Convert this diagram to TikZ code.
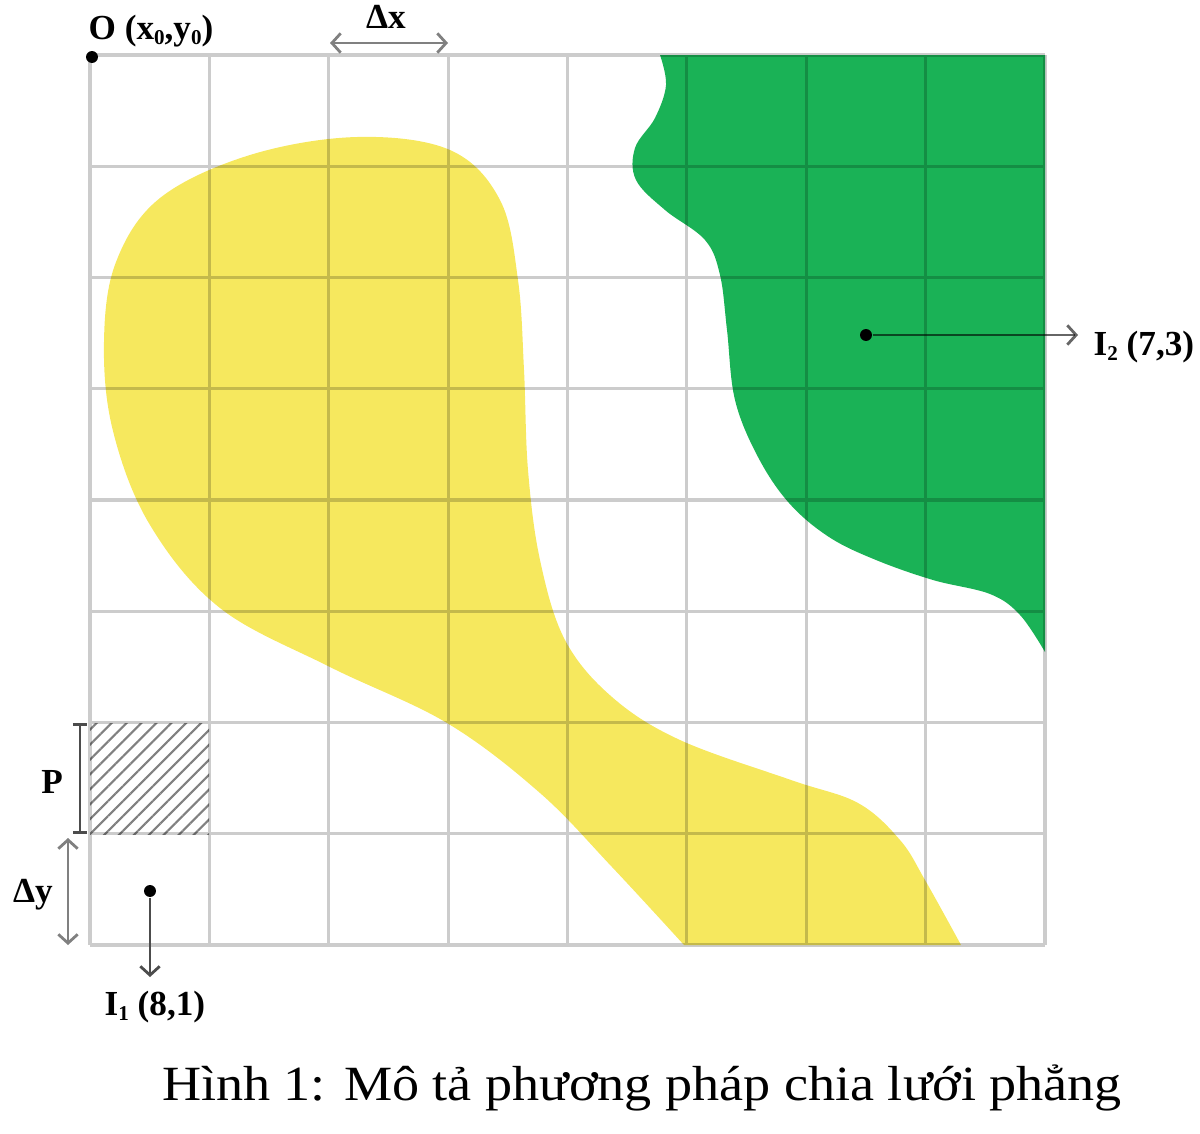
\documentclass[tikz,border=0pt]{standalone}
\usepackage{fontspec}
\setmainfont{Liberation Serif}
\newfontfamily\capfont[FakeStretch=1.1]{Liberation Serif}
\usetikzlibrary{arrows.meta,patterns.meta}
\definecolor{yellowfill}{RGB}{246,232,94}
\definecolor{greenfill}{RGB}{26,178,86}
\newcommand{\lowsub}[1]{\raisebox{-1.5pt}{\fontsize{6}{7}\selectfont#1}}
\tikzset{
  gridline/.style={black,opacity=0.2,line width=0.9pt},
  pt/.style={circle,fill=black,inner sep=0pt,minimum size=3.4pt},
  lab/.style={font=\bfseries\fontsize{10}{12}\selectfont,inner sep=0pt},
  barb/.style={line width=0.8pt,{Straight Barb[length=2.5pt,width=5.5pt]}-{Straight Barb[length=2.5pt,width=5.5pt]}},
  onebarb/.style={line width=0.8pt,-{Straight Barb[length=2.5pt,width=5.5pt]}},
}
\begin{document}
\begin{tikzpicture}[x=0.01cm,y=-0.01cm]
\useasboundingbox (0,0) rectangle (1200,1133);
\fill[yellowfill] plot[smooth,tension=0.6] coordinates {(684,945) (612,867) (540,793) (447,723) (330,667) (220,608) (150,525) (113,431) (104,342) (116,262) (160,198) (250,155) (357,137) (450,150) (500,200) (518,280) (524,370) (528,470) (540,560) (565,640) (612,697) (680,740) (791,780) (858,803) (900,840) (925,880) (961,945)} -- cycle;
\fill[greenfill] (1045,55) -- plot[smooth,tension=0.6] coordinates {(660,55) (666,85) (655,118) (635,148) (636,180) (665,210) (705,240) (720,275) (727,330) (735,400) (758,457) (789,503) (829,537) (876,560) (933,580) (990,594) (1020,615) (1045,652)} -- cycle;
\fill[pattern={Lines[angle=45,distance=3pt,line width=0.6pt]},pattern color=gray] (90,723) rectangle (209,834);
\draw[gridline] \foreach \i in {0,...,8} {({90+\i*119.375},55) -- ({90+\i*119.375},945) (90,{55+\i*111.25}) -- (1045,{55+\i*111.25})};
\node[pt] (o) at (92,57) {};
\node[lab,anchor=base west] (olab) at (88,39) {O (x\lowsub{0},y\lowsub{0})};
\coordinate (dxl) at (330,43);
\coordinate (dxr) at (448,43);
\draw[barb,gray] (dxl) -- (dxr);
\node[lab,anchor=base] (dxlab) at (386,28) {Δx};
\coordinate (ptop) at (80,723);
\coordinate (pbot) at (80,834);
\draw[black!70,line width=0.8pt,{Bar[width=4pt]}-{Bar[width=4pt]}] (ptop) -- (pbot);
\node[lab,anchor=base] (plab) at (52,793) {P};
\coordinate (dyt) at (68,838);
\coordinate (dyb) at (68,945);
\draw[barb,gray] (dyt) -- (dyb);
\node[lab,anchor=base] (dylab) at (33,902) {Δy};
\node[pt] (i1) at (150,891) {};
\coordinate (i1end) at (150,977);
\draw[onebarb,black!70] (i1) -- (i1end);
\node[lab,anchor=base west] (i1lab) at (104,1015) {I\lowsub{1} (8,1)};
\node[pt] (i2) at (866,335) {};
\coordinate (i2end) at (1078,335);
\draw[onebarb,black,opacity=0.6] (i2) -- (i2end);
\node[lab,anchor=base west] (i2lab) at (1093,355) {I\lowsub{2} (7,3)};
\node[font=\capfont\fontsize{14}{16}\selectfont,anchor=base] (cap) at (642,1100) {Hình 1: Mô tả phương pháp chia lưới phẳng};
\end{tikzpicture}
\end{document}
